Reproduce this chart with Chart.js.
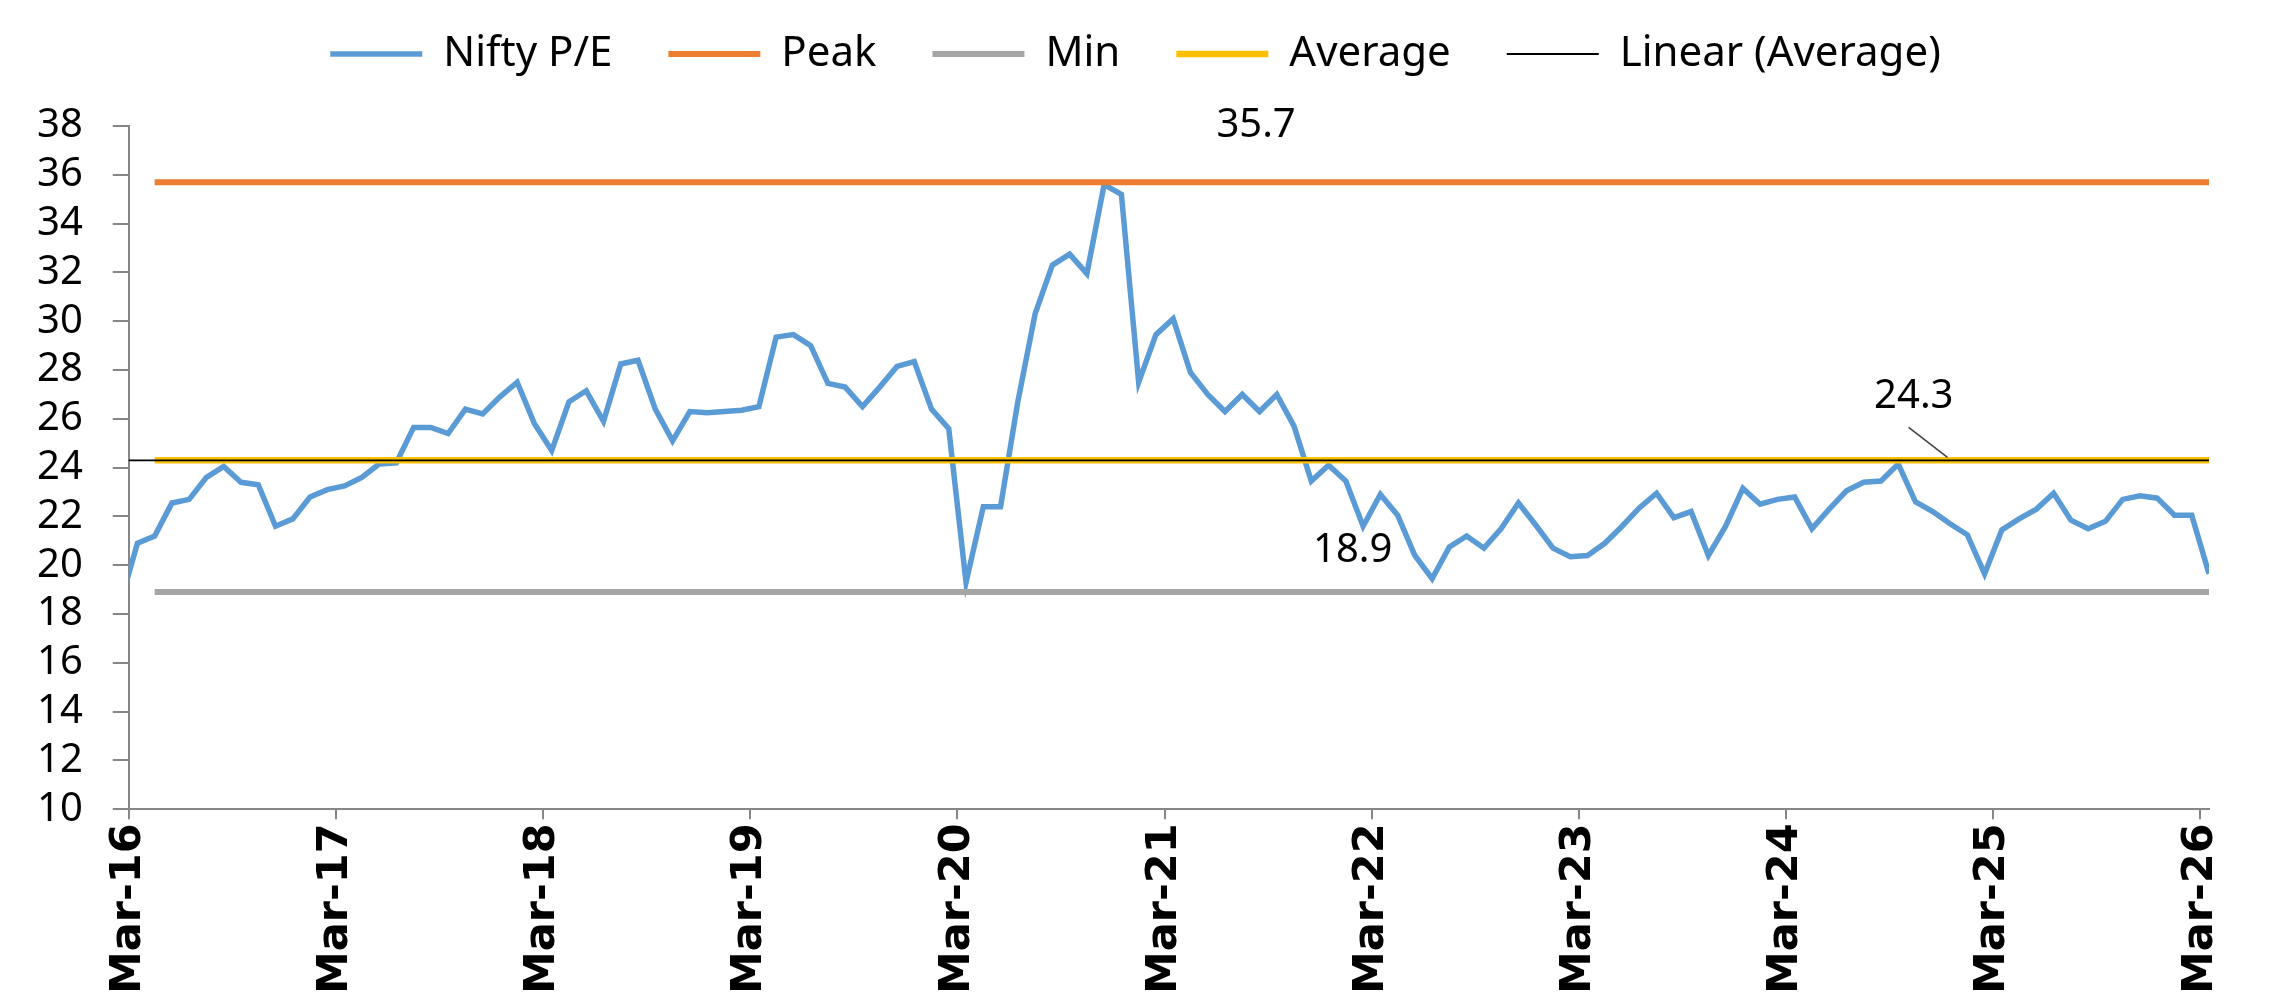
<!DOCTYPE html>
<html>
<head>
<meta charset="utf-8">
<title>Nifty P/E</title>
<script src="https://cdn.jsdelivr.net/npm/chart.js@4.4.1/dist/chart.umd.min.js"></script>
<style>
  html, body { margin: 0; padding: 0; background: #fff; }
  #wrap { width: 2271px; height: 998px; }
</style>
</head>
<body>
<div id="wrap"><canvas id="peChart"></canvas></div>
<script>
// x axis labels, one every 12 months
const tickLabels = ['Mar-16', 'Mar-17', 'Mar-18', 'Mar-19', 'Mar-20', 'Mar-21',
                    'Mar-22', 'Mar-23', 'Mar-24', 'Mar-25', 'Mar-26'];

// monthly Nifty P/E (first reading sits just left of the axis start)
const niftyPE = [
  18.4, 20.9, 21.2, 22.55, 22.7, 23.6, 24.05, 23.4, 23.3, 21.6, 21.9, 22.8,
  23.1, 23.25, 23.6, 24.15, 24.2, 25.65, 25.65, 25.4, 26.4, 26.2, 26.9, 27.5,
  25.8, 24.7, 26.7, 27.15, 25.9, 28.25, 28.4, 26.4, 25.1, 26.3, 26.25, 26.3,
  26.35, 26.5, 29.35, 29.45, 29.0, 27.45, 27.3, 26.5, 27.3, 28.15, 28.35, 26.4,
  25.6, 19.3, 22.4, 22.4, 26.7, 30.3, 32.3, 32.75, 31.95, 35.6, 35.2, 27.5,
  29.45, 30.1, 27.9, 27.0, 26.3, 27.0, 26.3, 27.0, 25.7, 23.45, 24.1, 23.45,
  21.6, 22.9, 22.05, 20.4, 19.45, 20.75, 21.2, 20.7, 21.5, 22.55, 21.65, 20.7,
  20.35, 20.4, 20.9, 21.6, 22.35, 22.95, 21.95, 22.2, 20.4, 21.6, 23.15, 22.5,
  22.7, 22.8, 21.5, 22.3, 23.05, 23.4, 23.45, 24.15, 22.6, 22.2, 21.7, 21.25,
  19.65, 21.45, 21.9, 22.3, 22.95, 21.85, 21.5, 21.8, 22.7, 22.85, 22.75, 22.05,
  22.05, 19.65
];

const peakPE = 35.7;
const minPE = 18.9;
const avgPE = 24.3;
const refStart = 2;      // peak/min/average series begin at this month
const firstTick = 0.5;   // Mar-16 falls half a month after the first reading

const FONT = 'Noto Sans';

const lineOf = (value, from) => niftyPE.map((_, i) => ({ x: i, y: i >= from ? value : null }));

function series(label, data, color, width, order, extra) {
  return Object.assign({
    label: label,
    data: data,
    borderColor: color,
    backgroundColor: color,
    borderWidth: width,
    pointBorderColor: color,
    pointBorderWidth: width,
    pointRadius: 0,
    tension: 0,
    fill: false,
    order: order
  }, extra || {});
}

// text labels drawn on the plot (position in data units)
const notes = [
  { text: peakPE.toFixed(1), x: 65.8, y: 38.0 },
  { text: minPE.toFixed(1), x: 71.4, y: 20.6 },
  { text: avgPE.toFixed(1), x: 103.9, y: 26.9, leader: [103.6, 25.65, 105.85, 24.42] }
];

const notePlugin = {
  id: 'notes',
  afterDatasetsDraw(chart) {
    const { ctx, scales: { x, y } } = chart;
    ctx.save();
    ctx.font = '40px "' + FONT + '"';
    ctx.fillStyle = '#000';
    ctx.textAlign = 'center';
    ctx.textBaseline = 'middle';
    notes.forEach(n => {
      ctx.fillText(n.text, x.getPixelForValue(n.x), y.getPixelForValue(n.y));
      if (n.leader) {
        ctx.strokeStyle = '#404040';
        ctx.lineWidth = 1.5;
        ctx.beginPath();
        ctx.moveTo(x.getPixelForValue(n.leader[0]), y.getPixelForValue(n.leader[1]));
        ctx.lineTo(x.getPixelForValue(n.leader[2]), y.getPixelForValue(n.leader[3]));
        ctx.stroke();
      }
    });
    ctx.restore();
  }
};

// extra room under the legend, and center it on the whole canvas
const legendGap = {
  id: 'legendGap',
  beforeInit(chart) {
    if (!chart.legend) return;
    const fit = chart.legend.fit;
    chart.legend.fit = function () {
      fit.call(this);
      this.height += 41;
    };
  },
  afterLayout(chart) {
    if (!chart.legend) return;
    chart.legend.left = 0;
    chart.legend.right = chart.width;
  }
};

new Chart(document.getElementById('peChart'), {
  type: 'line',
  data: {
    datasets: [
      series('Nifty P/E', niftyPE.map((v, i) => ({ x: i, y: v })), '#5B9BD5', 5.5, 5, { clip: 0 }),
      series('Peak', lineOf(peakPE, refStart), '#ED7D31', 6, 4),
      series('Min', lineOf(minPE, refStart), '#A5A5A5', 6, 3),
      series('Average', lineOf(avgPE, refStart), '#FFC000', 6.5, 2),
      series('Linear (Average)', lineOf(avgPE, 0), '#000000', 1.8, 1, { clip: 0 })
    ]
  },
  options: {
    responsive: true,
    maintainAspectRatio: false,
    animation: false,
    layout: { padding: { top: -23, left: 7, right: 62, bottom: 0 } },
    plugins: {
      legend: {
        position: 'top',
        labels: {
          usePointStyle: true,
          pointStyle: 'line',
          pointStyleWidth: 92,
          padding: 56,
          color: '#000',
          font: { family: FONT, size: 42 },
          sort: (a, b) => a.datasetIndex - b.datasetIndex
        }
      },
      tooltip: { enabled: false }
    },
    scales: {
      x: {
        type: 'linear',
        min: firstTick,
        max: niftyPE.length - 1,
        afterBuildTicks: (scale) => {
          scale.ticks = tickLabels.map((_, k) => ({ value: firstTick + 12 * k }));
        },
        ticks: {
          autoSkip: false,
          minRotation: 90,
          maxRotation: 90,
          padding: 4,
          color: '#000',
          font: { family: 'DejaVu Sans', size: 43, weight: 'bold' },
          callback: (v, i) => tickLabels[i]
        },
        grid: { drawOnChartArea: false, drawTicks: true, tickLength: 10, color: '#868686', lineWidth: 2 },
        border: { color: '#868686', width: 2 }
      },
      y: {
        min: 10,
        max: 38,
        ticks: {
          stepSize: 2,
          autoSkip: false,
          padding: 30,
          color: '#000',
          font: { family: FONT, size: 40 }
        },
        grid: { drawOnChartArea: false, drawTicks: true, tickLength: 16, color: '#868686', lineWidth: 2 },
        border: { color: '#868686', width: 2 }
      }
    }
  },
  plugins: [legendGap, notePlugin]
});
</script>
</body>
</html>
